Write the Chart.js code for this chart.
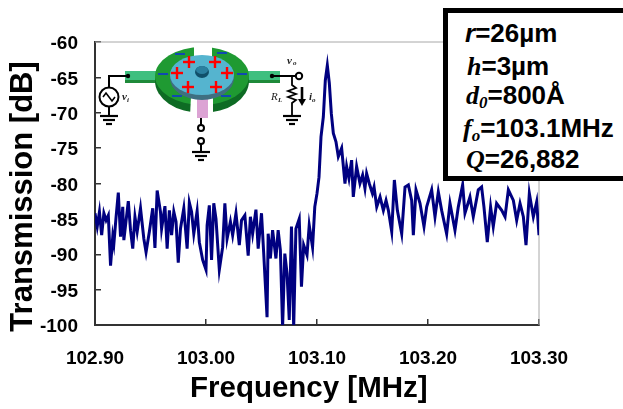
<!DOCTYPE html>
<html><head><meta charset="utf-8">
<script src="https://cdn.jsdelivr.net/npm/chart.js@4"></script>
<style>
html,body{margin:0;padding:0;background:#fff;width:623px;height:409px;overflow:hidden}
#wrap{position:relative;width:623px;height:409px;overflow:hidden}
#box{position:absolute;left:443px;top:8px;width:190px;height:163px;border:5px solid #000;background:#fff;font:bold 26px "Liberation Sans",Arial,sans-serif;color:#000}
#box div{position:absolute;white-space:nowrap;line-height:28px}
#box i{font-family:"Liberation Serif",serif;font-weight:bold}
#box sub{font-family:"Liberation Serif",serif;font-style:italic;font-size:17px;line-height:0;vertical-align:-4px}
</style></head><body>
<div id="wrap"><canvas id="c" width="623" height="409"></canvas>
<div id="box">
<div style="left:17px;top:6px"><i style="font-family:'Liberation Sans'">r</i>=26µm</div>
<div style="left:19px;top:39px"><i>h</i>=3µm</div>
<div style="left:18px;top:68px"><i>d</i><sub>0</sub>=800Å</div>
<div style="left:15px;top:101px"><i>f</i><sub>o</sub>=103.1MHz</div>
<div style="left:18px;top:132px"><i>Q</i>=26,882</div>
</div></div>
<script>
const frequencyMHz=[102.900,102.902,102.904,102.906,102.908,102.910,102.912,102.914,102.916,102.917,102.919,102.921,102.923,102.925,102.926,102.930,102.932,102.934,102.936,102.938,102.941,102.944,102.946,102.949,102.952,102.954,102.956,102.959,102.960,102.963,102.965,102.967,102.969,102.971,102.973,102.975,102.977,102.980,102.983,102.985,102.987,102.989,102.992,102.994,102.997,103.000,103.001,103.003,103.005,103.007,103.009,103.012,103.015,103.017,103.019,103.022,103.024,103.027,103.030,103.032,103.035,103.038,103.040,103.042,103.045,103.047,103.050,103.052,103.055,103.056,103.058,103.060,103.063,103.065,103.067,103.069,103.071,103.073,103.075,103.077,103.079,103.081,103.084,103.086,103.088,103.091,103.093,103.096,103.098,103.100,103.1018,103.1036,103.1057,103.1075,103.1093,103.1111,103.1129,103.1147,103.1171,103.1192,103.1222,103.1252,103.1267,103.1288,103.1312,103.1327,103.1357,103.1387,103.1411,103.1432,103.1447,103.1471,103.1499,103.1514,103.1538,103.1568,103.1598,103.1622,103.1643,103.1673,103.1697,103.1724,103.1763,103.1793,103.1823,103.1853,103.1868,103.1892,103.1928,103.1964,103.1988,103.2033,103.2063,103.2093,103.2123,103.2168,103.2198,103.2243,103.2273,103.2312,103.2333,103.2378,103.2408,103.2453,103.2483,103.2504,103.2534,103.2564,103.2588,103.2618,103.2664,103.2694,103.2724,103.2769,103.2799,103.2829,103.2859,103.2883,103.2913,103.2949,103.2979,103.3000];
const transmissionDb=[-84.2,-86.1,-84.0,-87.3,-84.2,-85.2,-84.5,-91.6,-87.5,-88.5,-84.7,-81.3,-87.5,-83.3,-88.0,-82.5,-86.6,-89.2,-84.7,-86.8,-83.5,-87.8,-89.7,-86.8,-83.5,-89.1,-81.0,-84.0,-86.4,-83.2,-89.2,-83.8,-87.3,-84.0,-85.4,-91.2,-86.4,-83.5,-89.2,-82.7,-84.0,-87.1,-83.9,-88.3,-90.8,-92.2,-85.9,-83.1,-90.8,-82.8,-85.0,-92.2,-89.0,-82.8,-87.8,-85.4,-87.3,-84.2,-88.7,-85.2,-84.5,-90.2,-84.7,-87.1,-83.7,-89.2,-84.2,-89.9,-98.9,-87.1,-90.6,-86.6,-90.6,-86.6,-89.4,-100.3,-89.9,-92.7,-99.3,-86.1,-100.3,-86.4,-85.0,-94.6,-88.7,-90.1,-85.9,-89.0,-83.3,-81.4,-79.1,-73.4,-70.6,-65.4,-63.3,-65.8,-70.1,-72.9,-74.1,-76.2,-75.0,-80.0,-77.6,-79.3,-76.7,-81.9,-77.6,-80.0,-78.8,-80.7,-78.6,-80.0,-81.4,-80.5,-83.3,-81.9,-83.8,-82.4,-83.8,-86.8,-79.5,-83.8,-87.1,-80.5,-80.2,-82.4,-87.3,-80.9,-82.8,-86.1,-83.3,-80.9,-84.7,-81.2,-83.8,-87.1,-82.8,-86.6,-83.3,-80.2,-84.2,-81.9,-84.7,-80.9,-80.5,-83.3,-88.3,-83.3,-86.1,-82.8,-83.8,-84.7,-80.9,-82.4,-85.2,-82.8,-84.7,-88.7,-81.4,-84.7,-82.6,-87.3];
const xTicks=[102.90,103.00,103.10,103.20,103.30];
const yTicks=[-60,-65,-70,-75,-80,-85,-90,-95,-100];
const xTitle="Frequency [MHz]";
const yTitle="Transmission [dB]";
const sans='"Liberation Sans",Arial,sans-serif';

function stroke(c,pts,w,col){c.beginPath();pts.forEach((p,i)=>i?c.lineTo(p[0],p[1]):c.moveTo(p[0],p[1]));c.lineWidth=w;c.strokeStyle=col||'#000';c.stroke();}
function ground(c,x,y){stroke(c,[[x-9,y],[x+9,y]],2.2);stroke(c,[[x-6,y+4],[x+6,y+4]],2.2);stroke(c,[[x-3,y+8],[x+3,y+8]],2.2);}
const frame={id:'frame',beforeDatasetsDraw(ch){const a=ch.chartArea,c=ch.ctx;c.save();
 stroke(c,[[a.left,a.top],[a.right,a.top],[a.right,a.bottom]],1,'#a8a8a8');c.restore();}};
const inset={id:'inset',afterDraw(ch){const c=ch.ctx;c.save();c.lineCap='butt';
 // electrode arms
 c.fillStyle='#3fbf7f';c.fillRect(125,71,34,10);c.fillRect(246,71,34,10);
 c.fillStyle='#1f8a3a';c.fillRect(125,80,34,3);c.fillRect(246,80,34,3);
 // dark green lower rim
 c.fillStyle='#0e6b24';c.beginPath();c.ellipse(202,81,47,32,0,0,Math.PI*2);c.fill();
 // green ring
 c.fillStyle='#1f9a32';c.beginPath();c.ellipse(202,76,47,29,0,0,Math.PI*2);c.fill();
 // gaps
 c.fillStyle='#fff';c.beginPath();c.moveTo(194,44);c.lineTo(212,44);c.lineTo(212,60);c.lineTo(194,60);c.fill();
 c.beginPath();c.moveTo(191,96);c.lineTo(213,96);c.lineTo(213,116);c.lineTo(190,116);c.fill();
 // pink stem
 c.fillStyle='#dca3d4';c.fillRect(197,99,11,19);
 // blue disk
 c.fillStyle='#3f6f80';c.beginPath();c.ellipse(202,78,32,22,0,0,Math.PI*2);c.fill();
 c.fillStyle='#55b4cf';c.beginPath();c.ellipse(202,75,32,20,0,0,Math.PI*2);c.fill();
 // anchor
 c.fillStyle='#10506a';c.beginPath();c.ellipse(202,72,7,6,0,0,Math.PI*2);c.fill();
 c.fillStyle='#2a7f9f';c.beginPath();c.ellipse(202,70,6,4,0,0,Math.PI*2);c.fill();
 // plus signs
 [[189,62],[215,62],[177,73],[227,73],[188,87],[216,87]].forEach(p=>{stroke(c,[[p[0]-6,p[1]],[p[0]+6,p[1]]],2.4,'#f00');stroke(c,[[p[0],p[1]-6],[p[0],p[1]+6]],2.4,'#f00');});
 // minus signs
 [[180,54],[222,53],[163,74],[242,74],[177,96],[226,96]].forEach(p=>stroke(c,[[p[0]-5,p[1]],[p[0]+5,p[1]]],1.8,'#1040c0'));
 // left source
 stroke(c,[[128,76],[109,76],[109,87]],2);
 c.fillStyle='#000';c.beginPath();c.arc(128,76,2.2,0,7);c.fill();
 c.beginPath();c.arc(109,97,9.5,0,7);c.lineWidth=2;c.stroke();
 stroke(c,[[103,97],[106,93],[109,97],[112,101],[115,97]],1.6);
 stroke(c,[[109,107],[109,115]],2);ground(c,109,116);
 // right side
 c.beginPath();c.arc(272,76,2.2,0,7);c.fill();
 stroke(c,[[272,76],[296,76]],2);
 c.fillStyle='#fff';c.beginPath();c.arc(299,76,3.2,0,7);c.fill();c.lineWidth=2;c.stroke();
 stroke(c,[[292,77],[292,85],[296,88],[288,91],[296,94],[288,97],[296,100],[292,103],[292,115]],1.8);ground(c,292,116);
 stroke(c,[[302,87],[302,100]],2.6);
 c.fillStyle='#000';c.beginPath();c.moveTo(298,99);c.lineTo(306,99);c.lineTo(302,106);c.fill();
 // bottom terminals
 stroke(c,[[201,118],[201,125]],2);
 c.beginPath();c.arc(201,128,3,0,7);c.stroke();
 c.beginPath();c.arc(201,141,3,0,7);c.stroke();
 stroke(c,[[201,144],[201,151]],2);ground(c,201,152);
 // labels
 c.fillStyle='#222';c.textBaseline='middle';
 c.font='italic bold 11px "Liberation Serif",serif';c.fillText('v',122,97);c.fillText('v',287,61);c.fillText('i',309,97);
 c.font='italic 11px "Liberation Serif",serif';c.fillText('R',271,97);c.font='italic bold 7px "Liberation Serif",serif';c.fillText('L',278,100);c.fillText('i',127,100);c.fillText('o',293,63);c.fillText('o',312,100);
 c.restore();}};

new Chart(document.getElementById('c'),{
 type:'line',
 data:{labels:frequencyMHz,datasets:[{data:frequencyMHz.map((f,i)=>({x:f,y:transmissionDb[i]})),borderColor:'#000080',borderWidth:3,pointRadius:0,tension:0,fill:false}]},
 plugins:[frame,inset],
 options:{responsive:false,animation:false,
  layout:{padding:{left:0,top:42,right:84,bottom:0}},
  plugins:{legend:{display:false},tooltip:{enabled:false}},
  scales:{
   x:{type:'linear',min:102.9,max:103.3,
     afterBuildTicks(s){s.ticks=xTicks.map(v=>({value:v}));},
     afterFit(s){s.height=84;},
     border:{color:'#333',width:2},
     grid:{drawOnChartArea:false,tickLength:-6,color:'#333',lineWidth:1.5},
     ticks:{padding:28,maxRotation:0,autoSkip:false,color:'#000',font:{family:sans,size:19,weight:'bold'},callback:v=>v.toFixed(2)},
     title:{display:true,text:xTitle+'  ',color:'#000',font:{family:sans,size:29.5,weight:'bold'},padding:{top:0,bottom:2}}},
   y:{type:'linear',min:-100,max:-60,
     afterBuildTicks(s){s.ticks=yTicks.map(v=>({value:v}));},
     afterFit(s){s.width=95;},
     border:{color:'#333',width:2},
     grid:{drawOnChartArea:false,tickLength:-6,color:'#333',lineWidth:1.5},
     ticks:{padding:23,labelOffset:2,autoSkip:false,color:'#000',font:{family:sans,size:19,weight:'bold'},callback:v=>String(v)},
     title:{display:true,text:yTitle+'   ',color:'#000',font:{family:sans,size:31,weight:'bold'},padding:{top:5,bottom:0}}}
  }}
});
</script></body></html>
